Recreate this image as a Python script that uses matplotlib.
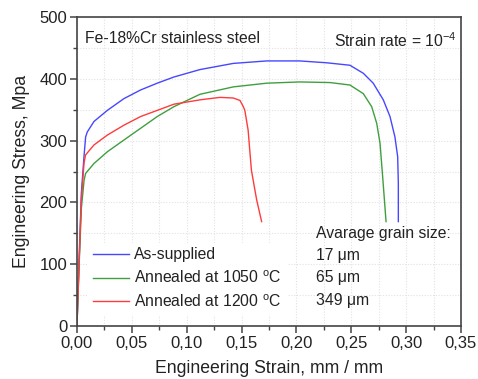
import matplotlib
matplotlib.use("Agg")
import matplotlib.pyplot as plt
from matplotlib.ticker import MultipleLocator, FuncFormatter

plt.rcParams['font.family'] = ['Liberation Sans', 'DejaVu Sans']
plt.rcParams['mathtext.fontset'] = 'custom'
plt.rcParams['mathtext.rm'] = 'Liberation Sans'
plt.rcParams['mathtext.it'] = 'Liberation Sans:italic'

# Data
as_x = [0.0, 0.002, 0.004, 0.0064, 0.0079, 0.0094, 0.0155, 0.0277, 0.0428, 0.058, 0.0732,
        0.0884, 0.1121, 0.1425, 0.173, 0.203, 0.2276, 0.2488, 0.261, 0.270, 0.2792,
        0.2853, 0.2898, 0.2923, 0.2929, 0.2929]
as_y = [0, 110, 215, 274, 306, 314, 331, 349, 368, 382, 393,
        403, 415, 425, 429, 429, 426, 422, 409, 393, 366,
        339, 306, 274, 231, 169]

a1050_x = [0.0, 0.002, 0.004, 0.0065, 0.0079, 0.0155, 0.0277, 0.0428, 0.058, 0.0732, 0.0884,
           0.1121, 0.1425, 0.173, 0.203, 0.2306, 0.2488, 0.261, 0.2686, 0.2732, 0.2762,
           0.2786, 0.2817]
a1050_y = [0, 100, 190, 236, 247, 263, 282, 301, 320, 339, 355,
           375, 387, 393, 395, 394, 390, 376, 355, 328, 296,
           242, 169]

a1200_x = [0.0, 0.002, 0.004, 0.0065, 0.0079, 0.0155, 0.0277, 0.0428, 0.058, 0.0732, 0.0884,
           0.1121, 0.1303, 0.1425, 0.1486, 0.1516, 0.153, 0.156, 0.159, 0.1638, 0.1683]
a1200_y = [0, 105, 205, 265, 277, 293, 309, 325, 339, 349, 359,
           366, 370, 369, 365, 355, 349, 317, 252, 204, 169]

labels = [r"As-supplied", r"Annealed at 1050 $^{\mathrm{o}}$C", r"Annealed at 1200 $^{\mathrm{o}}$C"]
grain = ["17 μm", "65 μm", "349 μm"]
colors = ["#4747ff", "#3f9f3f", "#ff3b3b"]

fig = plt.figure(figsize=(4.78, 3.79), dpi=100)
ax = fig.add_axes([0.161, 0.1398, 0.8034, 0.8152])

for xs, ys, lab, c in zip([as_x, a1050_x, a1200_x], [as_y, a1050_y, a1200_y], labels, colors):
    ax.plot(xs, ys, color=c, lw=1.0, label=lab, solid_joinstyle='round')

ax.set_xlim(0, 0.35)
ax.set_ylim(0, 500)
ax.xaxis.set_major_locator(MultipleLocator(0.05))
ax.xaxis.set_minor_locator(MultipleLocator(0.025))
ax.yaxis.set_major_locator(MultipleLocator(100))
ax.yaxis.set_minor_locator(MultipleLocator(50))
ax.xaxis.set_major_formatter(FuncFormatter(lambda v, p: f"{v:.2f}".replace('.', ',')))

ax.grid(True, which='both', color='#e2e2e2', linestyle=(0, (1, 1.5)), lw=0.8)
ax.set_axisbelow(True)

for s in ax.spines.values():
    s.set_color('#444444')
    s.set_linewidth(1.2)
ax.tick_params(which='major', direction='out', length=5, width=1.1, color='#444444',
               labelsize=12, top=False, right=False, pad=2, labelcolor='#222222')
ax.tick_params(which='minor', direction='out', length=3, width=1.0, color='#444444',
               top=False, right=False)

ax.set_xlabel("Engineering Strain, mm / mm", fontsize=12.7, labelpad=7, color='#222222')
ax.set_ylabel("Engineering Stress, Mpa", fontsize=12.7, labelpad=7, color='#222222')

ax.text(0.022, 0.955, "Fe-18%Cr stainless steel", transform=ax.transAxes, fontsize=11.3,
        va='top', ha='left', color='#222222')
ax.text(0.988, 0.955, r"Strain rate = 10$^{-4}$", transform=ax.transAxes, fontsize=11.3,
        va='top', ha='right', color='#222222')

leg = ax.legend(loc='lower left', bbox_to_anchor=(0.008, 0.012), fontsize=11.3, frameon=True,
                handlelength=2.3, labelspacing=0.45, handletextpad=0.35, borderpad=0.3)
leg.get_frame().set_facecolor('white')
leg.get_frame().set_edgecolor('white')
leg.get_frame().set_alpha(1)
for t in leg.get_texts():
    t.set_color('#222222')

ax.text(0.622, 0.300, "Avarage grain size:", transform=ax.transAxes, fontsize=11.3,
        va='center', ha='left', color='#222222')
for i, g in enumerate(grain):
    ax.text(0.622, 0.228 - i * 0.072, g, transform=ax.transAxes, fontsize=11.3,
            va='center', ha='left', color='#222222')

fig.savefig("out.png", dpi=100)
